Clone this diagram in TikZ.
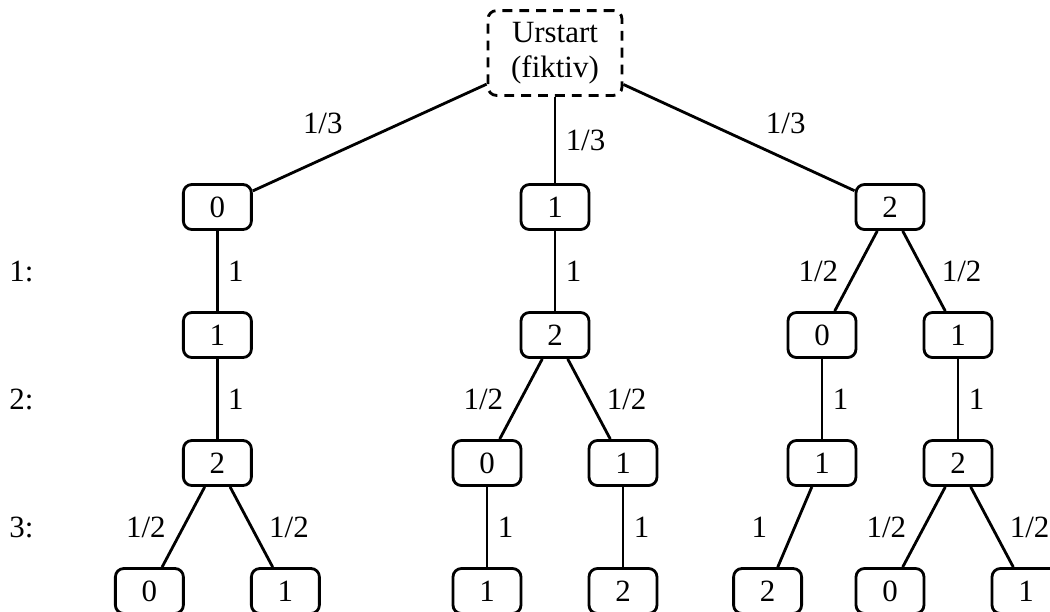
\documentclass[tikz,border=0pt]{standalone}
\usepackage{fontspec}
\setmainfont{Liberation Serif}
\usetikzlibrary{positioning,calc}

\begin{document}
\begin{tikzpicture}[%
    on grid,
    node distance=1.6cm and 0.85cm,
    line width=1pt,
    font=\fontsize{11}{12.5}\selectfont,
    zustand/.style={%
        draw,
        rounded corners=3pt,
        minimum width=0.85cm,
        minimum height=0.5625cm,
        inner sep=0pt,
    },
    urstart/.style={%
        zustand,
        dash pattern=on 3.5pt off 2.5pt,
        align=center,
        minimum width=1.675cm,
        minimum height=1.06cm,
    }
]
\useasboundingbox (-6.9375,-6.975) rectangle (6.1875,0.6625);
    \node[urstart] (r) {Urstart\\(fiktiv)};
    % erste Ebene
    \node[zustand, below left=1.925cm and 4.22cm of r] (a1) {0};
    \node[zustand, below=1.925cm of r] (b1) {1};
    \node[zustand, below right=1.925cm and 4.1875cm of r] (c1) {2};
    % linker Baum
    \node[zustand, below=of a1] (a2) {1};
    \node[zustand, below=of a2] (a3) {2};
    \node[zustand, below left=of a3] (a4) {0};
    \node[zustand, below right=of a3] (a5) {1};
    % mittlerer Baum
    \node[zustand, below=of b1] (b2) {2};
    \node[zustand, below left=of b2] (b3) {0};
    \node[zustand, below right=of b2] (b4) {1};
    \node[zustand, below=of b3] (b5) {1};
    \node[zustand, below=of b4] (b6) {2};
    % rechter Baum
    \node[zustand, below left=of c1] (c2) {0};
    \node[zustand, below right=of c1] (c3) {1};
    \node[zustand, below=of c2] (c4) {1};
    \node[zustand, below=of c3] (c5) {2};
    \node[zustand, below left=1.6cm and 0.68cm of c4] (c6) {2};
    \node[zustand, below left=of c5] (c7) {0};
    \node[zustand, below right=of c5] (c8) {1};

    \draw (r) -- node[above left, pos=.57] {1/3} (a1);
    \draw (r) -- node[right] {1/3} (b1);
    \draw (r) -- node[above right, pos=.57] {1/3} (c1);

    \foreach \f/\t in {a1/a2, a2/a3, b1/b2, b3/b5, b4/b6, c2/c4, c3/c5}{%
        \draw (\f) -- node[right] {1} (\t);
    }
    \draw (a3) -- node[left=2.5pt] {1/2} (a4);
    \draw (a3) -- node[right=2.5pt] {1/2} (a5);
    \draw (b2) -- node[left=2.5pt] {1/2} (b3);
    \draw (b2) -- node[right=2.5pt] {1/2} (b4);
    \draw (c1) -- node[left=2.5pt] {1/2} (c2);
    \draw (c1) -- node[right=2.5pt] {1/2} (c3);
    \draw (c4) -- node[left=6pt] {1} (c6);
    \draw (c5) -- node[left=2.5pt] {1/2} (c7);
    \draw (c5) -- node[right=2.5pt] {1/2} (c8);

    % Schritte
    \foreach \i [count=\j from 2] in {1,2,3}{%
        \coordinate (m\i) at ($(a\i)!.5!(a\j)$);
        \node (s\i) at ($(a1|-m\i)+(-2.45,0)$) {\i:};
    }
\end{tikzpicture}
\end{document}
